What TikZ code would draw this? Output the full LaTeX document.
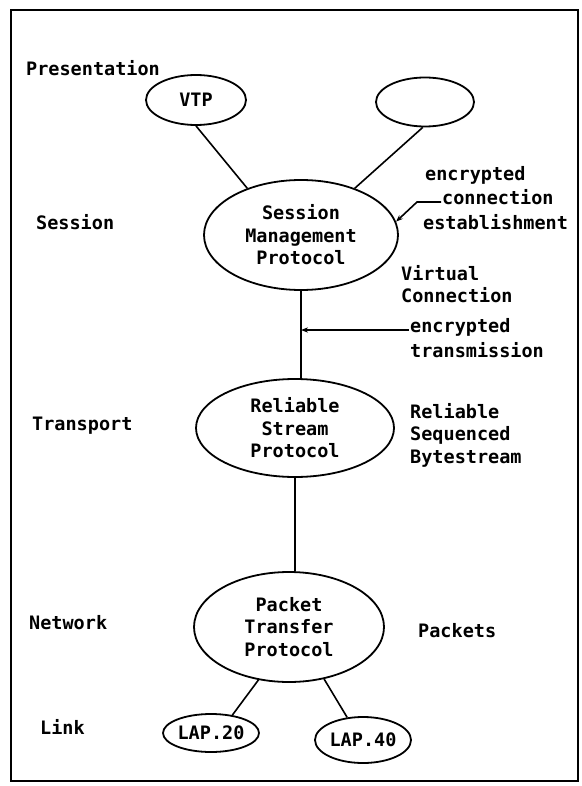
\documentclass[tikz,border=0pt]{standalone}
\usepackage{fontspec}
\setmonofont{DejaVu Sans Mono}
\usetikzlibrary{shapes.geometric,arrows.meta}
\begin{document}
\begin{tikzpicture}[
	x=1pt, y=-1pt,
	every node/.style={ font=\ttfamily\bfseries\fontsize{18.5}{22.5}\selectfont },
	proto/.style={ ellipse, draw, line width=1.8pt, inner sep=0pt, align=center },
	layer/.style={ anchor=west, inner sep=1pt, text height=1.5ex, text depth=.25ex },
	note/.style={ anchor=west, inner sep=1pt, align=left },
	wire/.style={ line width=1.6pt }
]
\useasboundingbox (0,0) rectangle (581,786);
\draw[line width=2pt] (11,10) rectangle (578,781);

\node at (196,100) (vtp) [proto, minimum width=100, minimum height=50] {VTP};
\node at (425,102) (blank) [proto, minimum width=98, minimum height=49] {};
\node at (301,235) (smp) [proto, minimum width=194, minimum height=110] {Session\\Management\\Protocol};
\node at (295,428) (rsp) [proto, minimum width=198, minimum height=98] {Reliable\\Stream\\Protocol};
\node at (289,627) (ptp) [proto, minimum width=190, minimum height=110] {Packet\\Transfer\\Protocol};
\node at (211,733) (lapa) [proto, minimum width=96, minimum height=38] {LAP.20};
\node at (363,740) (lapb) [proto, minimum width=96, minimum height=46] {LAP.40};

\node at (25,73) (pres) [layer] {Presentation};
\node at (35,227) (sess) [layer] {Session};
\node at (31,428) (trsp) [layer] {Transport};
\node at (28,627) (netw) [layer] {Network};
\node at (39,732) (link) [layer] {Link};

\node at (424,178) (enca) [layer] {encrypted};
\node at (441,202) (conn) [layer] {connection};
\node at (422,227) (estab) [layer] {establishment};
\node at (400,284) (virt) [note] {Virtual\\Connection};
\node at (409,330) (encb) [layer] {encrypted};
\node at (409,355) (trans) [layer] {transmission};
\node at (409,435) (rsb) [note] {Reliable\\Sequenced\\Bytestream};
\node at (417,635) (pkts) [layer] {Packets};

\draw[wire] (vtp.south) to (smp.139);
\draw[wire] (blank.-95) to (smp.41);
\draw[wire] (smp.south) to (smp.south |- rsp.north);
\draw[wire] (rsp.south) to (rsp.south |- ptp.north);
\draw[wire] (ptp.-120) to (lapa.40);
\draw[wire] (ptp.-56) to (lapb.125);
\draw[wire, -{Stealth[length=7pt]}] (conn.west) -- ++(-24,0) -- (smp.8);
\draw[wire, -{Stealth[length=7pt]}] (encb.west) -- (encb.west -| smp.south);

\end{tikzpicture}
\end{document}
